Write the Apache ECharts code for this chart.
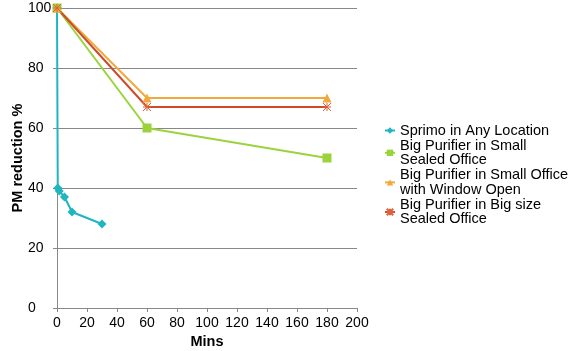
<!DOCTYPE html>
<html>
<head>
<meta charset="utf-8">
<script src="https://cdn.jsdelivr.net/npm/echarts@6/dist/echarts.min.js"></script>
<style>
  html, body { margin: 0; padding: 0; background: #fff; }
  #chart { width: 569px; height: 351px; }
</style>
</head>
<body>
<div id="chart"></div>
<script>
// series data as [mins, PM reduction %]
const sprimo = [[0, 100], [0.5, 40], [1.5, 39], [5, 37], [10, 32], [30, 28]]
const smallSealed = [[0, 100], [60, 60], [180, 50]]
const smallWindow = [[0, 100], [60, 70], [180, 70]]
const bigSealed = [[0, 100], [60, 67], [180, 67]]

const names = [
  'Sprimo in Any Location',
  'Big Purifier in Small\nSealed Office',
  'Big Purifier in Small Office\nwith Window Open',
  'Big Purifier in Big size\nSealed Office'
]
const xTicks = { min: 0, max: 200, interval: 20 }
const yTicks = { min: 0, max: 100, interval: 20 }

const FONT = "'Liberation Sans', Arial, sans-serif"
const ASTERISK = 'path://M0,0 L10,10 M10,0 L0,10 M5,0 L5,10 M0,5 L10,5'

const chart = echarts.init(document.getElementById('chart'))

const mk = (name, data, color, symbol, size, extra) => ({
  name,
  type: 'line',
  data,
  symbol,
  symbolSize: size,
  showAllSymbol: true,
  lineStyle: { color, width: 2 },
  itemStyle: Object.assign({ color }, extra || {}),
  emphasis: { disabled: true },
  animation: false
})

chart.setOption({
  textStyle: { fontFamily: FONT },
  grid: { left: 57, top: 8, width: 300, height: 300, outerBoundsMode: 'none' },
  legend: {
    orient: 'vertical',
    left: 379,
    top: 118,
    itemWidth: 10,
    itemHeight: 8,
    itemGap: 0,
    textStyle: { fontSize: 14.5, color: '#000', lineHeight: 14.6, fontFamily: FONT },
    data: names
  },
  xAxis: {
    type: 'value',
    ...xTicks,
    name: 'Mins',
    nameLocation: 'middle',
    nameGap: 26,
    nameMoveOverlap: false,
    nameTextStyle: { fontWeight: 'bold', fontSize: 14.5, color: '#000' },
    axisLine: { show: true, lineStyle: { color: '#888' } },
    axisTick: { show: true, length: 4, lineStyle: { color: '#888' } },
    axisLabel: { fontSize: 14, color: '#000', margin: 8 },
    splitLine: { show: false }
  },
  yAxis: {
    type: 'value',
    ...yTicks,
    name: 'PM reduction %',
    nameLocation: 'middle',
    nameGap: 32,
    nameMoveOverlap: false,
    nameTextStyle: { fontWeight: 'bold', fontSize: 14.5, color: '#000' },
    axisLine: { show: true, lineStyle: { color: '#888' } },
    axisTick: { show: true, length: 4, lineStyle: { color: '#888' } },
    axisLabel: { fontSize: 14, color: '#000', margin: 29, align: 'left' },
    splitLine: { lineStyle: { color: '#888', width: 1 } }
  },
  series: [
    mk(names[0], sprimo, '#1fb6c1', 'diamond', 9),
    mk(names[1], smallSealed, '#9bd33a', 'rect', 9),
    mk(names[2], smallWindow, '#f2a93b', 'triangle', 9),
    mk(names[3], bigSealed, '#cc4b2a', ASTERISK, 8, { borderColor: '#e0603c', borderWidth: 1 })
  ]
})
</script>
</body>
</html>
